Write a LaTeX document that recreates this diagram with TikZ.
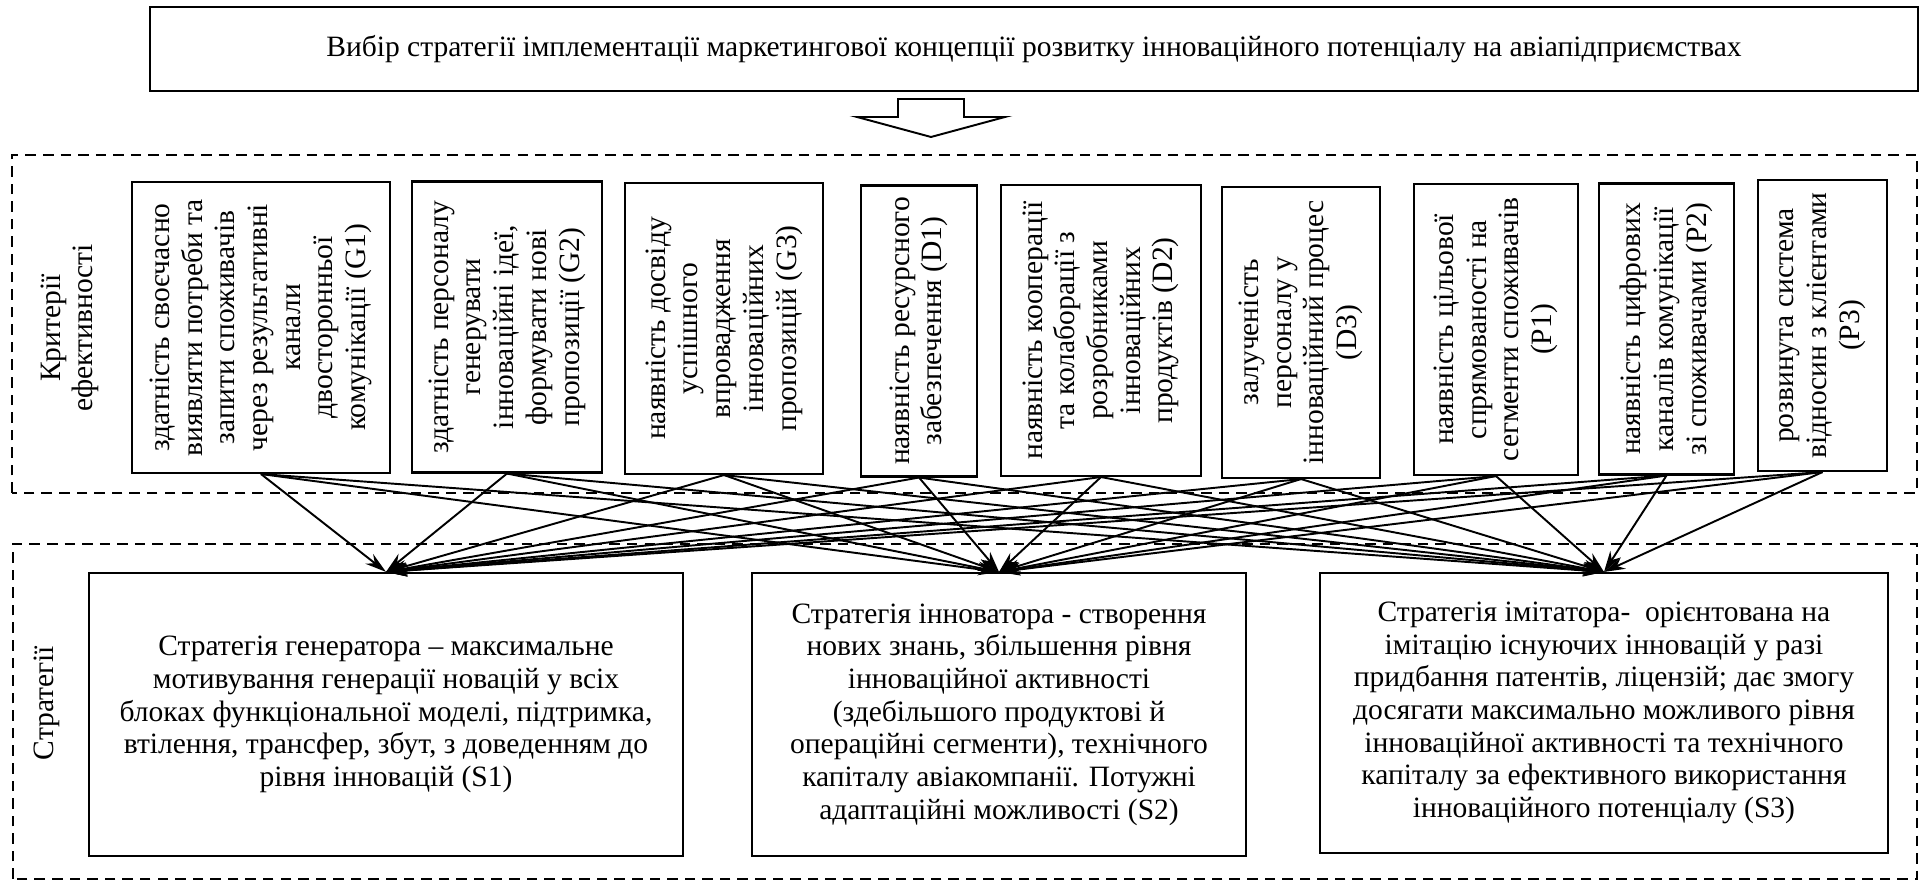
\documentclass[tikz,border=0pt]{standalone}
\usepackage{fontspec}
\setmainfont{Liberation Serif}
\usetikzlibrary{arrows.meta}

\tikzset{
  txt/.style={font=\fontsize{16.8}{18.6}\selectfont, align=center},
  critbox/.style={txt, draw, line width=1.2pt, rotate=90, minimum width=5.82cm, inner sep=2pt},
  stratbox/.style={txt, draw, line width=1.2pt, minimum height=5.66cm},
  group/.style={line width=1pt, dash pattern=on 6pt off 4pt},
  link/.style={-{Stealth[length=12pt,width=7pt]}, line width=1.1pt}
}

\begin{document}
\begin{tikzpicture}
\useasboundingbox (0,0) rectangle (38.42,17.62);

% Goal box
\node[txt, draw, line width=1.2pt, minimum width=35.36cm, minimum height=1.68cm] (goal) at (20.68,16.64)
  {Вибір стратегії імплементації маркетингової концепції розвитку інноваційного потенціалу на авіапідприємствах};

% Hollow arrow down
\draw[line width=1.1pt] (17.96,15.64) -- (19.28,15.64) -- (19.28,15.28) -- (20.10,15.28)
  -- (18.62,14.88) -- (17.14,15.28) -- (17.96,15.28) -- cycle;

% Criteria group
\draw[group] (0.24,7.76) rectangle (38.34,14.52);
\node[txt, rotate=90] (critlabel) at (1.40,11.06) {Критерії\\ефективності};

% Criteria boxes (rotated: .west is the bottom edge)
\node[critbox, minimum height=5.16cm] (g1) at (5.22,11.07) {здатність своєчасно\\виявляти потреби та\\запити споживачів\\через результативні\\канали\\двосторонньої\\комунікації (G1)};
\node[critbox, minimum height=3.80cm] (g2) at (10.14,11.08) {здатність персоналу\\генерувати\\інноваційні ідеї,\\формувати нові\\пропозиції (G2)};
\node[critbox, minimum height=3.96cm] (g3) at (14.48,11.05) {наявність досвіду\\успішного\\впровадження\\інноваційних\\пропозицій (G3)};
\node[critbox, minimum height=2.32cm] (d1) at (18.38,11.00) {наявність ресурсного\\забезпечення (D1)};
\node[critbox, minimum height=4.00cm] (d2) at (22.02,11.01) {наявність кооперації\\та колаборації з\\розробниками\\інноваційних\\продуктів (D2)};
\node[critbox, minimum height=3.16cm] (d3) at (26.02,10.97) {залученість\\персоналу у\\інноваційний процес\\(D3)};
\node[critbox, minimum height=3.28cm] (p1) at (29.92,11.03) {наявність цільової\\спрямованості на\\сегменти споживачів\\(P1)};
\node[critbox, minimum height=2.70cm] (p2) at (33.33,11.04) {наявність цифрових\\каналів комунікації\\зі споживачами (P2)};
\node[critbox, minimum height=2.58cm] (p3) at (36.45,11.11) {розвинута система\\відносин з клієнтами\\(P3)};

% Strategies group
\draw[group] (0.26,0.04) rectangle (38.34,6.74);
\node[txt, rotate=90] (stratlabel) at (0.94,3.56) {Стратегії};

% Strategy boxes
\node[stratbox, minimum width=11.88cm] (s1) at (7.72,3.33) {Стратегія генератора – максимальне\\мотивування генерації новацій у всіх\\блоках функціональної моделі, підтримка,\\втілення, трансфер, збут, з доведенням до\\рівня інновацій (S1)};
\node[stratbox, minimum width=9.88cm] (s2) at (19.98,3.33) {Стратегія інноватора - створення\\нових знань, збільшення рівня\\інноваційної активності\\(здебільшого продуктові й\\операційні сегменти), технічного\\капіталу авіакомпанії. Потужні\\адаптаційні можливості (S2)};
\node[stratbox, minimum width=11.36cm, minimum height=5.6cm] (s3) at (32.08,3.36) {Стратегія імітатора-\ \ орієнтована на\\імітацію існуючих інновацій у разі\\придбання патентів, ліцензій; дає змогу\\досягати максимально можливого рівня\\інноваційної активності та технічного\\капіталу за ефективного використання\\інноваційного потенціалу (S3)};

% Every criterion feeds every strategy
\foreach \c in {g1,g2,g3,d1,d2,d3,p1,p2,p3}
  \foreach \s in {s1,s2,s3}
    \draw[link] (\c.west) -- (\s.north);
\end{tikzpicture}
\end{document}
